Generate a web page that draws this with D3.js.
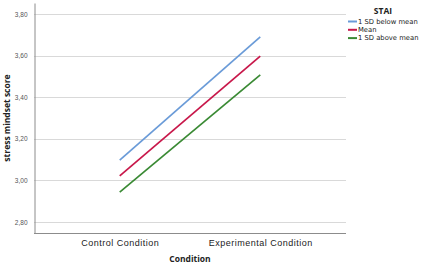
<!DOCTYPE html>
<html>
<head>
<meta charset="utf-8">
<script src="https://cdn.jsdelivr.net/npm/d3@7"></script>
<style>
  body { margin: 0; background: #fff; }
  svg { display: block; font-family: "Open Sans", "Noto Sans", sans-serif; }
</style>
</head>
<body>
<svg id="chart" width="431" height="276"></svg>
<script>
// data
const conditions = ['Control Condition', 'Experimental Condition'];
const groups = ['1 SD below mean', 'Mean', '1 SD above mean'];
const colors = ['#6a9bd8', '#c8174a', '#3a8a34'];
const below = [3.097, 3.69];
const mean = [3.022, 3.598];
const above = [2.944, 3.507];
const yTicks = [2.8, 3.0, 3.2, 3.4, 3.6, 3.8];

const series = [below, mean, above];

const margin = { top: 3, left: 34, bottom: 43, right: 85 };
const width = 431, height = 276;

const svg = d3.select('#chart');

const x = d3.scalePoint()
    .domain(conditions)
    .range([margin.left, width - margin.right])
    .padding(0.61);

const y = d3.scaleLinear()
    .domain([2.747, 3.853])
    .range([height - margin.bottom, margin.top]);

const fmt = d => d3.format('.2f')(d).replace('.', ',');

// gridlines
svg.append('g')
    .selectAll('line')
    .data(yTicks)
    .join('line')
    .attr('x1', margin.left)
    .attr('x2', width - margin.right)
    .attr('y1', d => Math.round(y(d)) + 0.5)
    .attr('y2', d => Math.round(y(d)) + 0.5)
    .attr('stroke', '#d9d9d9')
    .attr('stroke-width', 1);

// y axis
svg.append('g')
    .attr('transform', `translate(${margin.left + 0.5},0)`)
    .call(d3.axisLeft(y).tickValues(yTicks).tickFormat(fmt).tickSize(0).tickPadding(7))
    .call(g => g.select('.domain').attr('stroke', '#8c8c8c'))
    .call(g => g.selectAll('text').attr('font-size', 6.5).attr('fill', '#555'));

// x axis
svg.append('g')
    .attr('transform', `translate(0,${height - margin.bottom + 0.5})`)
    .call(d3.axisBottom(x).tickSize(0).tickPadding(6))
    .call(g => g.select('.domain').attr('stroke', '#8c8c8c').attr('d', `M${margin.left},0H${width - margin.right}`))
    .call(g => g.selectAll('text').attr('font-size', 9).attr('letter-spacing', 0.5).attr('fill', '#222'));

// lines
const line = d3.line()
    .x((d, i) => x(conditions[i]))
    .y(d => y(d));

svg.append('g')
    .selectAll('path')
    .data(series)
    .join('path')
    .attr('d', line)
    .attr('fill', 'none')
    .attr('stroke', (d, i) => colors[i])
    .attr('stroke-width', 1.7);

// axis titles
svg.append('text')
    .attr('x', 190)
    .attr('y', 262)
    .attr('text-anchor', 'middle')
    .attr('font-size', 8.5)
    .attr('font-weight', 'bold')
    .attr('fill', '#222')
    .text('Condition');

svg.append('text')
    .attr('transform', `translate(10,${y(3.3)}) rotate(-90)`)
    .attr('text-anchor', 'middle')
    .attr('font-size', 8.5)
    .attr('font-weight', 'bold')
    .attr('fill', '#222')
    .text('stress mindset score');

// legend
const legend = svg.append('g').attr('transform', 'translate(348,0)');
legend.append('text')
    .attr('x', 35)
    .attr('y', 14)
    .attr('text-anchor', 'middle')
    .attr('font-size', 8.5)
    .attr('font-weight', 'bold')
    .attr('fill', '#222')
    .text('STAI');

const rows = legend.selectAll('g.row')
    .data(groups)
    .join('g')
    .attr('class', 'row')
    .attr('transform', (d, i) => `translate(0,${21.5 + i * 8.3})`);

rows.append('line')
    .attr('x1', 0).attr('x2', 9)
    .attr('stroke', (d, i) => colors[i])
    .attr('stroke-width', 2);

rows.append('text')
    .attr('x', 10)
    .attr('dy', '0.35em')
    .attr('font-family', '"DejaVu Sans", sans-serif')
    .attr('font-size', 6.8)
    .attr('fill', '#222')
    .text(d => d);
</script>
</body>
</html>
